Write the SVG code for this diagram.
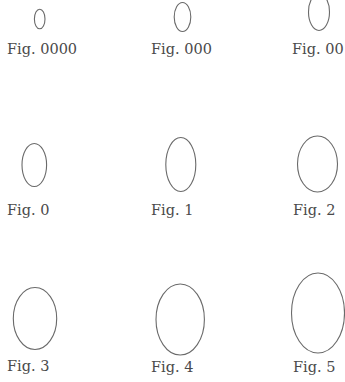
<svg xmlns="http://www.w3.org/2000/svg" width="345" height="382" viewBox="0 0 345 382">
<style>
.fig{fill:none;stroke:#6a6a6a;stroke-width:1.1}
.lbl{font-family:"DejaVu Serif","Liberation Serif",serif;font-size:14.5px;fill:#4a4a4a}
</style>
<rect width="345" height="382" fill="#fff"/>
<g id="fig0000"><ellipse class="fig" cx="39.7" cy="19" rx="5.3" ry="9.8"/><text class="lbl" x="7" y="54">Fig. 0000</text></g>
<g id="fig000"><ellipse class="fig" cx="182.5" cy="17" rx="8.3" ry="14.5"/><text class="lbl" x="151" y="54">Fig. 000</text></g>
<g id="fig00"><ellipse class="fig" cx="319" cy="12" rx="10.5" ry="18.5"/><text class="lbl" x="292" y="54">Fig. 00</text></g>
<g id="fig0"><ellipse class="fig" cx="34.3" cy="165" rx="12.3" ry="21.5"/><text class="lbl" x="7" y="215">Fig. 0</text></g>
<g id="fig1"><ellipse class="fig" cx="180.8" cy="164.5" rx="15" ry="27"/><text class="lbl" x="151" y="215">Fig. 1</text></g>
<g id="fig2"><ellipse class="fig" cx="317.5" cy="164" rx="20" ry="28"/><text class="lbl" x="293" y="215">Fig. 2</text></g>
<g id="fig3"><ellipse class="fig" cx="35" cy="318.5" rx="21.7" ry="31"/><text class="lbl" x="7" y="371">Fig. 3</text></g>
<g id="fig4"><ellipse class="fig" cx="180.2" cy="319.5" rx="24.2" ry="35.5"/><text class="lbl" x="151" y="372">Fig. 4</text></g>
<g id="fig5"><ellipse class="fig" cx="318" cy="313" rx="26.5" ry="40"/><text class="lbl" x="293" y="372">Fig. 5</text></g>
</svg>
